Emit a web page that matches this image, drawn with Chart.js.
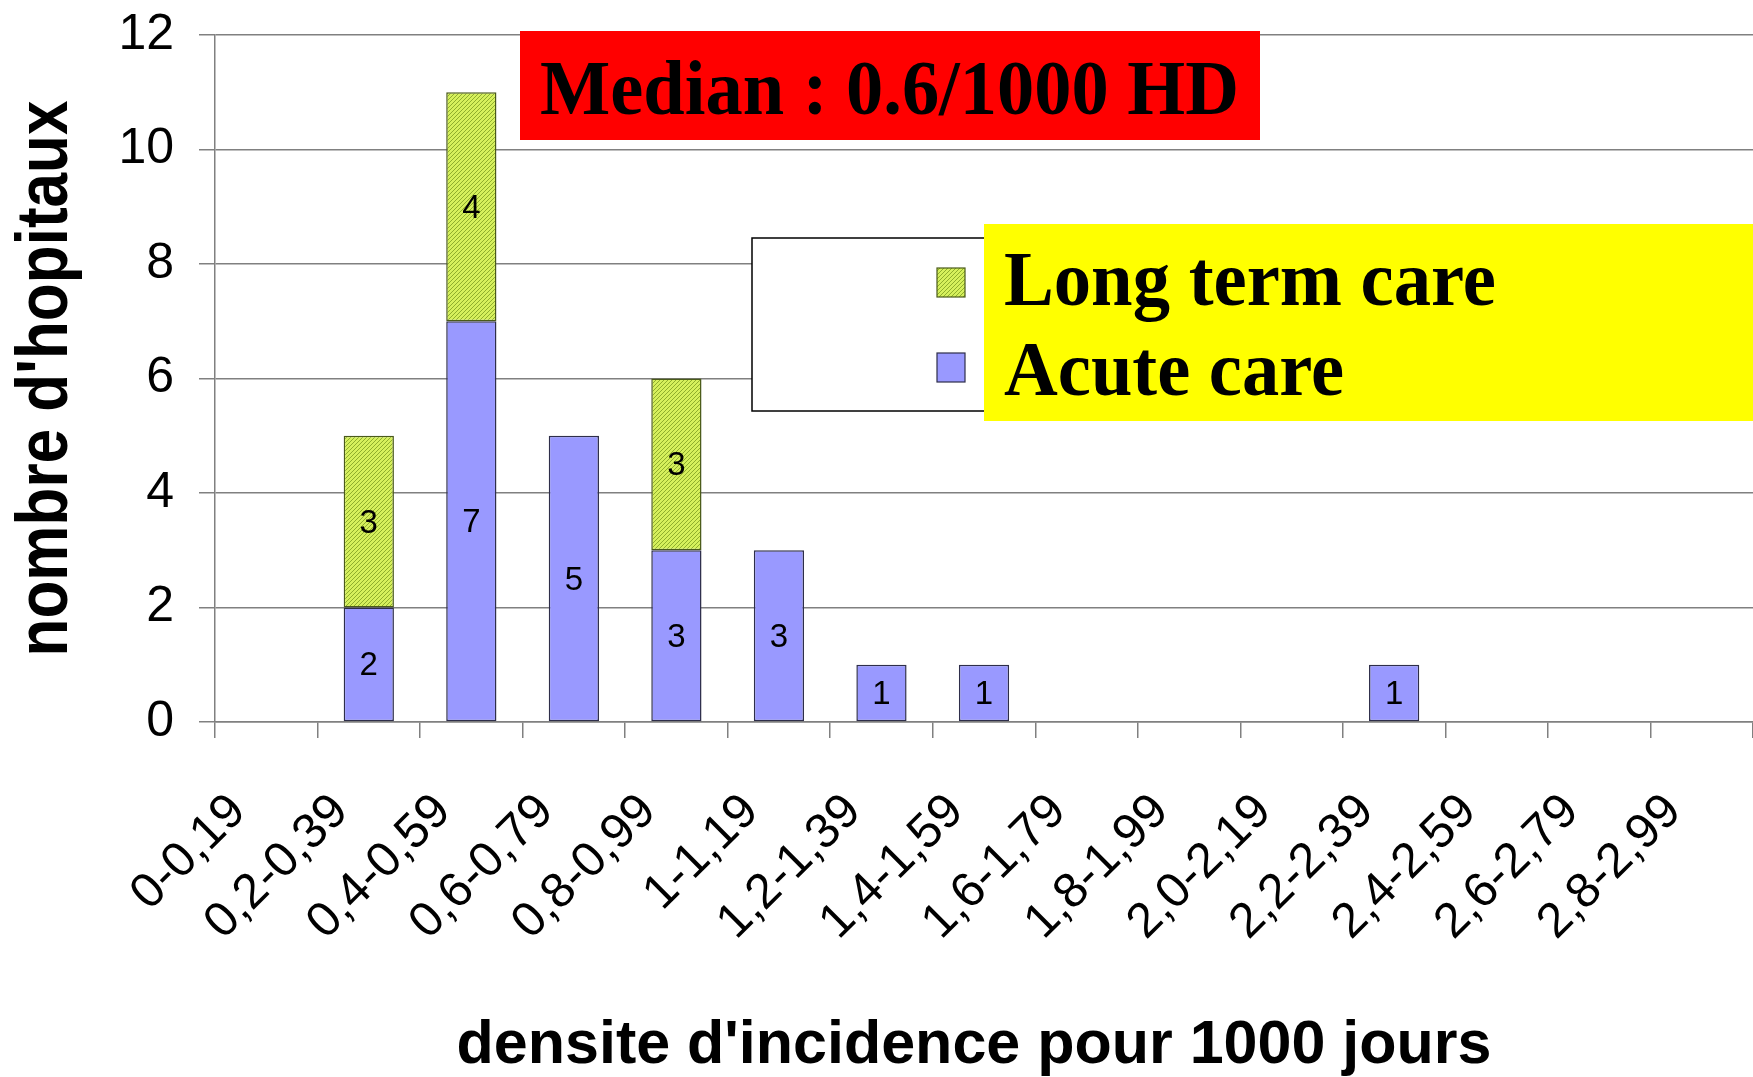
<!DOCTYPE html>
<html>
<head>
<meta charset="utf-8">
<script src="https://cdn.jsdelivr.net/npm/chart.js@4.4.1/dist/chart.umd.min.js"></script>
<style>
  body { margin: 0; background: #fff; }
  canvas { display: block; }
</style>
</head>
<body>
<canvas id="chart" width="1753" height="1077"></canvas>
<script>
// data
const categories = ['0-0,19', '0,2-0,39', '0,4-0,59', '0,6-0,79', '0,8-0,99', '1-1,19', '1,2-1,39',
  '1,4-1,59', '1,6-1,79', '1,8-1,99', '2,0-2,19', '2,2-2,39', '2,4-2,59', '2,6-2,79', '2,8-2,99'];
const acuteCare = [0, 2, 7, 5, 3, 3, 1, 1, 0, 0, 0, 1, 0, 0, 0];
const longTermCare = [0, 3, 4, 0, 3, 0, 0, 0, 0, 0, 0, 0, 0, 0, 0];
const seriesNames = ['Acute care', 'Long term care'];
const yMax = 12;
const yStep = 2;
const yTitle = "nombre d'hopitaux";
const xTitle = "densite d'incidence pour 1000 jours";
const medianText = 'Median : 0.6/1000 HD';

const canvas = document.getElementById('chart');
const ctx = canvas.getContext('2d');

const SANS = '"Liberation Sans", Arial, sans-serif';
const SERIF = '"Liberation Serif", "Times New Roman", serif';
const AXIS_GREY = '#808080';

// green hatch fill used by long term care bars
function makeHatch() {
  const c = document.createElement('canvas');
  c.width = 4; c.height = 4;
  const g = c.getContext('2d');
  g.fillStyle = '#d6f05c';
  g.fillRect(0, 0, 4, 4);
  g.fillStyle = '#8fae2c';
  for (let i = 0; i < 4; i++) g.fillRect(i, 3 - i, 1, 1);
  return ctx.createPattern(c, 'repeat');
}
const hatch = makeHatch();
const acuteColor = '#9999ff';

const extras = {
  id: 'extras',
  afterDatasetsDraw(chart) {
    const c = chart.ctx;
    c.save();
    c.font = '33px ' + SANS;
    c.fillStyle = '#000';
    c.textAlign = 'center';
    c.textBaseline = 'middle';
    chart.data.datasets.forEach((ds, i) => {
      chart.getDatasetMeta(i).data.forEach((bar, j) => {
        const v = ds.data[j];
        if (!v) return;
        c.fillText(String(v), bar.x, (bar.y + bar.base) / 2 + 2);
      });
    });
    c.restore();
  },
  afterDraw(chart) {
    const c = chart.ctx;
    const area = chart.chartArea;
    c.save();
    c.fillStyle = '#000';
    c.textBaseline = 'alphabetic';

    // axis titles, tall narrow lettering like the original
    c.save();
    c.translate(67, (area.top + area.bottom) / 2);
    c.rotate(-Math.PI / 2);
    c.font = 'bold 73px ' + SANS;
    c.textAlign = 'center';
    c.fillText(yTitle, 0, 0, 556);
    c.restore();

    c.font = 'bold 61px ' + SANS;
    c.textAlign = 'center';
    c.fillText(xTitle, 974, 1063);

    // median box
    c.fillStyle = '#ff0000';
    c.fillRect(520, 31, 740, 109);
    c.fillStyle = '#000';
    c.font = 'bold 79px ' + SERIF;
    c.textAlign = 'left';
    c.fillText(medianText, 540, 114, 699);

    // legend frame
    c.fillStyle = '#fff';
    c.fillRect(752, 238, 260, 173);
    c.strokeStyle = '#000';
    c.lineWidth = 1.5;
    c.strokeRect(752, 238, 260, 173);

    // yellow label panel
    c.fillStyle = '#ffff00';
    c.fillRect(984, 224, 769, 197);

    // swatches
    c.lineWidth = 1.2;
    c.fillStyle = hatch;
    c.fillRect(937, 268, 28, 29);
    c.strokeStyle = '#4a5a1a';
    c.strokeRect(937, 268, 28, 29);
    c.fillStyle = acuteColor;
    c.fillRect(937, 353, 28, 29);
    c.strokeStyle = '#2e2e4a';
    c.strokeRect(937, 353, 28, 29);

    c.fillStyle = '#000';
    c.font = 'bold 78px ' + SERIF;
    c.fillText(seriesNames[1], 1004, 305, 492);
    c.fillText(seriesNames[0], 1004, 395, 340);

    c.restore();
  }
};

new Chart(ctx, {
  type: 'bar',
  data: {
    labels: categories,
    datasets: [{
      label: seriesNames[0],
      data: acuteCare.map(v => v || null),
      backgroundColor: acuteColor,
      borderColor: '#2e2e4a',
      borderWidth: 1.5,
      borderSkipped: false
    }, {
      label: seriesNames[1],
      data: longTermCare.map(v => v || null),
      backgroundColor: hatch,
      borderColor: '#4a5a1a',
      borderWidth: 1.5,
      borderSkipped: false
    }]
  },
  options: {
    responsive: false,
    animation: false,
    barPercentage: 0.49,
    categoryPercentage: 1,
    layout: { padding: { top: 35, right: 0, left: 0, bottom: 0 } },
    plugins: {
      legend: { display: false },
      tooltip: { enabled: false }
    },
    scales: {
      x: {
        stacked: true,
        afterFit(scale) {
          scale.height = 355;
          scale.paddingLeft = 0;
          scale.paddingRight = 0;
        },
        grid: {
          offset: true,
          drawOnChartArea: false,
          drawTicks: true,
          tickLength: 16,
          color: AXIS_GREY,
          lineWidth: 1.5
        },
        border: { color: AXIS_GREY, width: 1.5 },
        ticks: {
          autoSkip: false,
          minRotation: 45,
          maxRotation: 45,
          padding: 45,
          labelOffset: -28,
          color: '#000',
          font: { family: SANS, size: 49 }
        },
        title: { display: false }
      },
      y: {
        stacked: true,
        min: 0,
        max: yMax,
        afterFit(scale) {
          scale.width = 215;
          scale.paddingTop = 0;
          scale.paddingBottom = 0;
        },
        grid: {
          color: AXIS_GREY,
          lineWidth: 1.5,
          drawTicks: true,
          tickLength: 16
        },
        border: { color: AXIS_GREY, width: 1.5 },
        ticks: {
          stepSize: yStep,
          padding: 25,
          color: '#000',
          font: { family: SANS, size: 50 }
        },
        title: { display: false }
      }
    }
  },
  plugins: [extras]
});
</script>
</body>
</html>
